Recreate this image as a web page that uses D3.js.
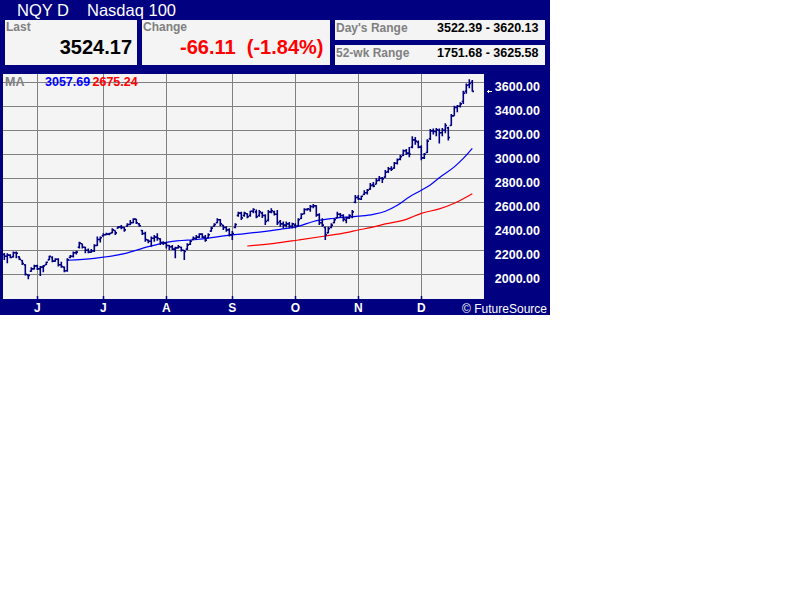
<!DOCTYPE html>
<html><head><meta charset="utf-8">
<script src="https://cdn.jsdelivr.net/npm/d3@7"></script>
<style>
body{margin:0;background:#fff}
svg{display:block}
text{font-family:"Liberation Sans",Arial,sans-serif}
</style>
</head><body>
<svg id="c" width="800" height="600"></svg>
<script>
// ---------- DATA ----------
const symbol = "NQY D";
const instrument = "Nasdaq 100";
const lastValue = "3524.17";
const changeText = "-66.11  (-1.84%)";
const daysRange = "3522.39 - 3620.13";
const wkRange = "1751.68 - 3625.58";
const maFastLabel = "3057.69";
const maSlowLabel = "2675.24";
const startDate = "1999-05-14";
const holidays = ["1999-05-31","1999-07-05","1999-09-06","1999-11-25","1999-12-24"];
const monthLabels = ["J","J","A","S","O","N","D"];
const yTicks = [2000,2200,2400,2600,2800,3000,3200,3400,3600];

const opens = [2165,2150,2160,2145,2180,2145,2115,2080,1995,2025,2045,2070,2045,2060,2080,2120,2140,2110,2125,2080,2060,2030,2140,2150,2180,2225,2255,2225,2200,2185,2195,2240,2290,2320,2330,2335,2345,2365,2385,2395,2390,2400,2415,2430,2460,2420,2365,2340,2285,2275,2300,2310,2295,2265,2260,2240,2230,2210,2220,2225,2200,2210,2250,2290,2300,2310,2335,2310,2305,2360,2400,2430,2455,2410,2390,2370,2330,2390,2490,2510,2490,2505,2490,2525,2520,2490,2510,2490,2450,2520,2520,2500,2440,2420,2410,2420,2400,2410,2405,2465,2505,2540,2540,2565,2570,2495,2430,2390,2345,2390,2430,2470,2500,2490,2450,2470,2480,2600,2640,2625,2665,2680,2710,2745,2750,2785,2800,2810,2855,2880,2885,2925,2960,2990,3030,3010,3060,3120,3100,3060,2970,3015,3130,3195,3190,3200,3180,3200,3220,3240,3320,3390,3400,3440,3525,3580,3600];
const highs = [2178,2175,2167,2189,2189,2150,2119,2083,1998,2058,2080,2080,2070,2078,2105,2155,2150,2133,2133,2105,2064,2133,2161,2189,2197,2272,2255,2230,2215,2210,2250,2314,2314,2342,2347,2347,2383,2365,2403,2411,2395,2425,2453,2467,2460,2425,2370,2355,2290,2314,2328,2342,2300,2275,2272,2244,2244,2230,2244,2230,2203,2258,2286,2314,2328,2342,2342,2328,2342,2397,2425,2467,2460,2411,2400,2383,2360,2425,2522,2522,2522,2508,2530,2550,2540,2536,2522,2500,2536,2550,2530,2536,2453,2439,2439,2435,2430,2425,2467,2508,2550,2550,2578,2586,2575,2508,2467,2397,2397,2425,2467,2522,2510,2500,2480,2500,2536,2660,2660,2655,2700,2710,2760,2770,2800,2820,2810,2870,2895,2900,2935,2965,2995,3040,3045,3060,3150,3145,3115,3075,3010,3125,3210,3215,3220,3215,3220,3258,3230,3336,3405,3410,3433,3530,3590,3625.58,3620.13];
const lows = [2120,2092,2133,2140,2133,2119,2078,1990,1958,2022,2040,2036,1985,2017,2078,2119,2100,2105,2064,2055,2017,2022,2133,2139,2165,2216,2216,2175,2175,2180,2185,2235,2265,2314,2325,2325,2342,2327,2383,2375,2355,2397,2411,2425,2420,2397,2328,2272,2258,2230,2272,2280,2244,2244,2216,2203,2203,2133,2216,2189,2119,2203,2244,2286,2286,2300,2300,2272,2300,2355,2397,2425,2400,2369,2355,2314,2286,2383,2480,2453,2480,2467,2480,2508,2467,2480,2470,2411,2440,2508,2490,2411,2397,2383,2390,2383,2383,2383,2397,2460,2500,2530,2522,2550,2480,2411,2397,2286,2342,2383,2425,2467,2470,2440,2425,2460,2467,2592,2620,2620,2660,2665,2705,2725,2750,2775,2760,2805,2845,2860,2880,2915,2950,2985,2995,2975,3050,3080,3050,2950,2960,3010,3120,3165,3150,3090,3150,3175,3115,3238,3322,3350,3391,3420,3505,3550,3522.39];
const closes = [2150,2160,2140,2180,2175,2125,2090,2000,1990,2045,2070,2045,2060,2070,2100,2150,2110,2125,2080,2065,2030,2120,2150,2180,2185,2260,2225,2200,2185,2195,2240,2290,2305,2330,2335,2340,2370,2345,2395,2390,2370,2415,2430,2460,2430,2405,2340,2290,2275,2300,2310,2300,2265,2260,2240,2230,2210,2220,2230,2200,2190,2245,2275,2300,2310,2335,2310,2285,2330,2385,2415,2455,2420,2390,2370,2330,2340,2415,2510,2470,2510,2480,2525,2540,2480,2520,2490,2440,2520,2530,2500,2430,2420,2410,2420,2400,2420,2400,2455,2500,2540,2545,2565,2570,2495,2430,2410,2330,2380,2410,2455,2500,2490,2460,2470,2490,2520,2640,2630,2650,2680,2700,2740,2735,2780,2800,2795,2850,2880,2875,2925,2955,2980,3030,3010,3000,3120,3110,3060,2970,3000,3110,3195,3190,3205,3180,3200,3240,3140,3320,3390,3400,3420,3510,3575,3590.28,3524.17];

// moving averages: trading-day number and value
const maFastDays   = [21,30,40,48,55,65,76,85,92,98,103,110,118,123,127,131,135,139,142,145,150,153,156];
const maFastValues = [2117,2133,2172,2230,2270,2292,2328,2352,2375,2400,2440,2467,2484,2500,2525,2575,2645,2700,2745,2805,2895,2966,3050];
const maSlowDays   = [81,90,98,107,114,118,122,127,134,139,145,150,156];
const maSlowValues = [2236,2258,2286,2319,2347,2369,2389,2420,2458,2508,2545,2592,2672];

// ---------- RENDER ----------
const svg = d3.select("#c");
const NAVY = "#000080", PANEL = "#f4f4f4", GRID = "#808080", LABEL = "#808080";
const plot = {l: 3, t: 74, r: 484, b: 299};

// trading calendar
const parse = d3.utcParse("%Y-%m-%d"), fmt = d3.utcFormat("%Y-%m-%d");
const hol = new Set(holidays);
const dates = [];
let d = parse(startDate);
while (dates.length < closes.length) {
  const wd = d.getUTCDay();
  if (wd !== 0 && wd !== 6 && !hol.has(fmt(d))) dates.push(fmt(d));
  d = d3.utcDay.offset(d, 1);
}
const monthStarts = dates.filter((s, i) => i > 0 && s.slice(5,7) !== dates[i-1].slice(5,7));

const x = d3.scalePoint().domain(dates).range([4.3, 472.3]);
const xi = i => x(dates[i]);
const y = d3.scaleLinear().domain([2000, 3600]).range([274.3, 82.3]);

// background
svg.append("rect").attr("x",0).attr("y",0).attr("width",550).attr("height",315).attr("fill",NAVY);

// header
const title = svg.append("g").attr("fill","#fff").attr("font-size",16.5);
title.append("text").attr("x",17).attr("y",15.5).text(symbol);
title.append("text").attr("x",87).attr("y",15.5).text(instrument);

const boxes = [
  {x:5,y:20,w:132,h:45},{x:142,y:20,w:188,h:45},
  {x:335,y:20,w:210,h:20},{x:335,y:45,w:210,h:20}
];
svg.selectAll("rect.box").data(boxes).join("rect").attr("class","box")
  .attr("x",b=>b.x).attr("y",b=>b.y).attr("width",b=>b.w).attr("height",b=>b.h).attr("fill",PANEL);

const lbl = (tx, ty, t, opts={}) => svg.append("text").attr("x",tx).attr("y",ty)
  .attr("fill",opts.fill||LABEL).attr("font-size",opts.size||12).attr("font-weight","bold")
  .attr("text-anchor",opts.anchor||"start").style("white-space","pre").text(t);

lbl(6,30.7,"Last");
lbl(143,30.7,"Change");
lbl(132,54.3,lastValue,{fill:"#000",size:20,anchor:"end"});
lbl(323.5,54.3,changeText,{fill:"#ff0000",size:20,anchor:"end"});
lbl(336,32,"Day's Range");
lbl(538.5,32,daysRange,{fill:"#000",size:12.5,anchor:"end"});
lbl(336,57.3,"52-wk Range");
lbl(538.5,57.3,wkRange,{fill:"#000",size:12.5,anchor:"end"});

// plot panel
svg.append("rect").attr("x",plot.l).attr("y",plot.t).attr("width",plot.r-plot.l).attr("height",plot.b-plot.t).attr("fill",PANEL);

const grid = svg.append("g").attr("stroke",GRID).attr("stroke-width",1).attr("shape-rendering","crispEdges");
grid.selectAll("line.h").data(yTicks).join("line").attr("class","h")
  .attr("x1",plot.l).attr("x2",plot.r).attr("y1",v=>Math.round(y(v))+0.5).attr("y2",v=>Math.round(y(v))+0.5);
grid.selectAll("line.v").data(monthStarts).join("line").attr("class","v")
  .attr("x1",s=>Math.round(x(s))+0.5).attr("x2",s=>Math.round(x(s))+0.5).attr("y1",plot.t).attr("y2",plot.b);
// small navy ticks at bottom of plot
svg.append("g").selectAll("line").data(monthStarts).join("line")
  .attr("x1",s=>Math.round(x(s))+0.5).attr("x2",s=>Math.round(x(s))+0.5)
  .attr("y1",plot.b-3).attr("y2",plot.b).attr("stroke",NAVY).attr("stroke-width",1.5);

// MA lines
const maLine = d3.line().x(p=>xi(p[0])).y(p=>y(p[1])).curve(d3.curveMonotoneX);
svg.append("path").attr("d",maLine(d3.zip(maSlowDays,maSlowValues))).attr("fill","none").attr("stroke","#ff0000").attr("stroke-width",1.2);
svg.append("path").attr("d",maLine(d3.zip(maFastDays,maFastValues))).attr("fill","none").attr("stroke","#0000ff").attr("stroke-width",1.2);

// OHLC bars
const bars = svg.append("g").attr("stroke",NAVY).attr("stroke-width",1.6).attr("fill","none");
bars.selectAll("path").data(d3.range(closes.length)).join("path")
  .attr("d", i => {
    const cx = xi(i);
    return `M${cx},${y(highs[i])}V${y(lows[i])}` +
           `M${cx-1.6},${y(opens[i])}H${cx}` +
           `M${cx},${y(closes[i])}H${cx+1.7}`;
  });

// MA labels
lbl(5,86,"MA",{size:12.5});
lbl(45,86,maFastLabel,{fill:"#0000ff",size:12.5});
lbl(92.5,86,maSlowLabel,{fill:"#ff0000",size:12.5});

// y axis labels
svg.append("g").selectAll("text").data(yTicks).join("text")
  .attr("x",540).attr("y",v=>y(v)+8.3).attr("text-anchor","end")
  .attr("fill","#fff").attr("font-size",12.5).attr("font-weight","bold")
  .text(d3.format(".2f"));

// current price marker
const cy = Math.round(y(+lastValue))+0.5;
svg.append("path").attr("d",`M487,${cy}H492M488.5,${cy-1.5}V${cy+1.5}`).attr("stroke","#fff").attr("stroke-width",1).attr("shape-rendering","crispEdges");

// month labels
svg.append("g").selectAll("text").data(monthStarts).join("text")
  .attr("x",s=>x(s)).attr("y",312).attr("text-anchor","middle")
  .attr("fill","#fff").attr("font-size",12).attr("font-weight","bold")
  .text((s,i)=>monthLabels[i]);

svg.append("text").attr("x",547).attr("y",313).attr("text-anchor","end")
  .attr("fill","#fff").attr("font-size",12).text("\u00A9 FutureSource");
</script>
</body></html>
